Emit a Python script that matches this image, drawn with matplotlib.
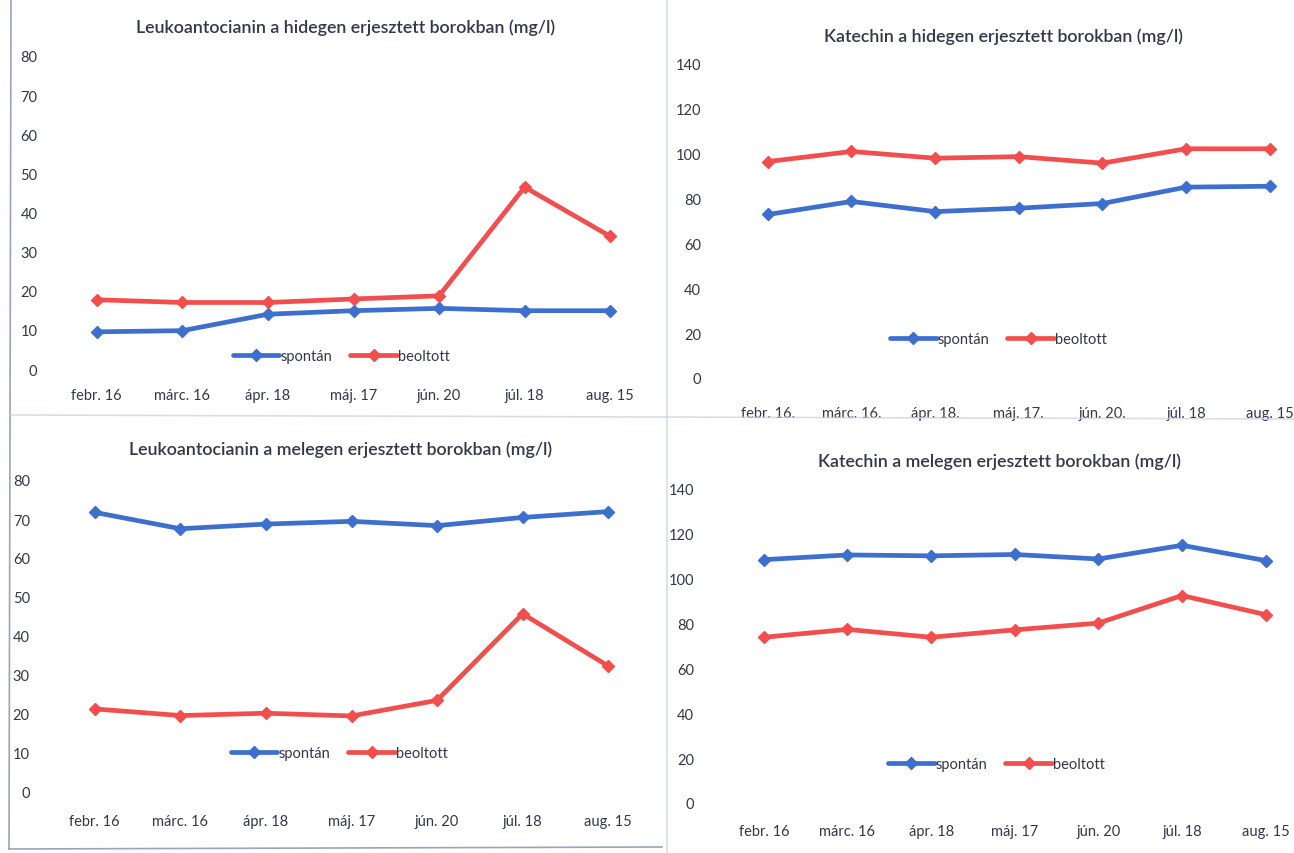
import matplotlib
matplotlib.use("Agg")
import matplotlib.pyplot as plt
from matplotlib.lines import Line2D

plt.rcParams['font.family'] = ['Lato', 'DejaVu Sans']

# Sampling dates
dates = ["febr. 16", "márc. 16", "ápr. 18", "máj. 17", "jún. 20", "júl. 18", "aug. 15"]
dates_dot = ["febr. 16.", "márc. 16.", "ápr. 18.", "máj. 17.", "jún. 20.", "júl. 18", "aug. 15"]

# Leukoantocianin, cold fermented (mg/l)
leuko_cold_spontan = [9.5, 9.8, 14.0, 14.9, 15.5, 14.9, 14.9]
leuko_cold_beoltott = [17.7, 17.0, 17.0, 17.9, 18.7, 46.5, 33.9]

# Katechin, cold fermented (mg/l)
kat_cold_spontan = [72.9, 78.7, 74.2, 75.7, 77.8, 85.1, 85.5]
kat_cold_beoltott = [96.5, 101.0, 98.0, 98.7, 95.8, 102.2, 102.2]

# Leukoantocianin, warm fermented (mg/l)
leuko_warm_spontan = [71.7, 67.5, 68.7, 69.4, 68.3, 70.4, 71.9]
leuko_warm_beoltott = [21.3, 19.6, 20.2, 19.5, 23.5, 45.7, 32.3]

# Katechin, warm fermented (mg/l)
kat_warm_spontan = [108.5, 110.6, 110.2, 110.8, 108.8, 114.9, 108.1]
kat_warm_beoltott = [73.9, 77.4, 73.9, 77.2, 80.2, 92.5, 84.0]

W, H = 1294, 854
BLUE = "#3d6fce"
RED = "#f24e4e"
TEXT = "#33374a"

fig = plt.figure(figsize=(W / 100, H / 100), dpi=100)
fig.patch.set_facecolor("white")


def px_axes(left, right, top, bottom):
    return fig.add_axes([left / W, 1 - bottom / H, (right - left) / W, (bottom - top) / H])


def panel(box, xlim, ymax, ystep, labels, spontan, beoltott, title, title_xy,
          legend_y, ypad, xpad):
    ax = px_axes(*box)
    x = range(len(labels))
    ax.plot(x, spontan, color=BLUE, lw=3.4, marker="D", ms=6,
            solid_capstyle="round", label="spontán")
    ax.plot(x, beoltott, color=RED, lw=3.4, marker="D", ms=6,
            solid_capstyle="round", label="beoltott")
    ax.set_xlim(*xlim)
    ax.set_ylim(0, ymax)
    ax.set_yticks(range(0, ymax + 1, ystep))
    ax.set_xticks(list(x))
    ax.set_xticklabels(labels)
    for s in ax.spines.values():
        s.set_visible(False)
    ax.tick_params(length=0, labelsize=10.5, labelcolor=TEXT)
    ax.tick_params(axis="y", pad=ypad)
    ax.tick_params(axis="x", pad=xpad)
    ax.patch.set_alpha(0)
    ax.legend(loc="center", bbox_to_anchor=(0.48, legend_y), ncol=2,
              frameon=False, fontsize=10.5, handlelength=3.2,
              handletextpad=0.1, columnspacing=1.2, labelcolor=TEXT)
    fig.text(title_xy[0] / W, 1 - title_xy[1] / H, title, ha="center", va="center",
             fontsize=12.8, fontweight="semibold", color=TEXT)
    return ax


panel((54, 653, 57, 370), (-0.5, 6.5), 80, 10, dates,
      leuko_cold_spontan, leuko_cold_beoltott,
      "Leukoantocianin a hidegen erjesztett borokban (mg/l)", (346, 28),
      0.042, 12, 14)

panel((726, 1294, 65, 379), (-0.5, 6.29), 140, 20, dates_dot,
      kat_cold_spontan, kat_cold_beoltott,
      "Katechin a hidegen erjesztett borokban (mg/l)", (1004, 37),
      0.124, 18, 20)

panel((52, 651, 481, 793), (-0.5, 6.5), 80, 10, dates,
      leuko_warm_spontan, leuko_warm_beoltott,
      "Leukoantocianin a melegen erjesztett borokban (mg/l)", (341, 450),
      0.125, 16, 16)

panel((722, 1294, 490, 804), (-0.5, 6.34), 140, 20, dates,
      kat_warm_spontan, kat_warm_beoltott,
      "Katechin a melegen erjesztett borokban (mg/l)", (1000, 462),
      0.124, 20, 15)

# Faint chart frame lines
for (x0, y0, x1, y1, c, a) in [(11, 0, 9, 850, "#8e9bb5", 0.9),
                               (9, 850, 662, 848, "#8e9bb5", 0.9),
                               (10, 416, 1294, 420, "#c8d0df", 0.7),
                               (667, 0, 667, 854, "#c8d0df", 0.7)]:
    fig.add_artist(Line2D([x0 / W, x1 / W], [1 - y0 / H, 1 - y1 / H],
                          color=c, lw=1.2, alpha=a))

fig.savefig("out.png", dpi=100)
